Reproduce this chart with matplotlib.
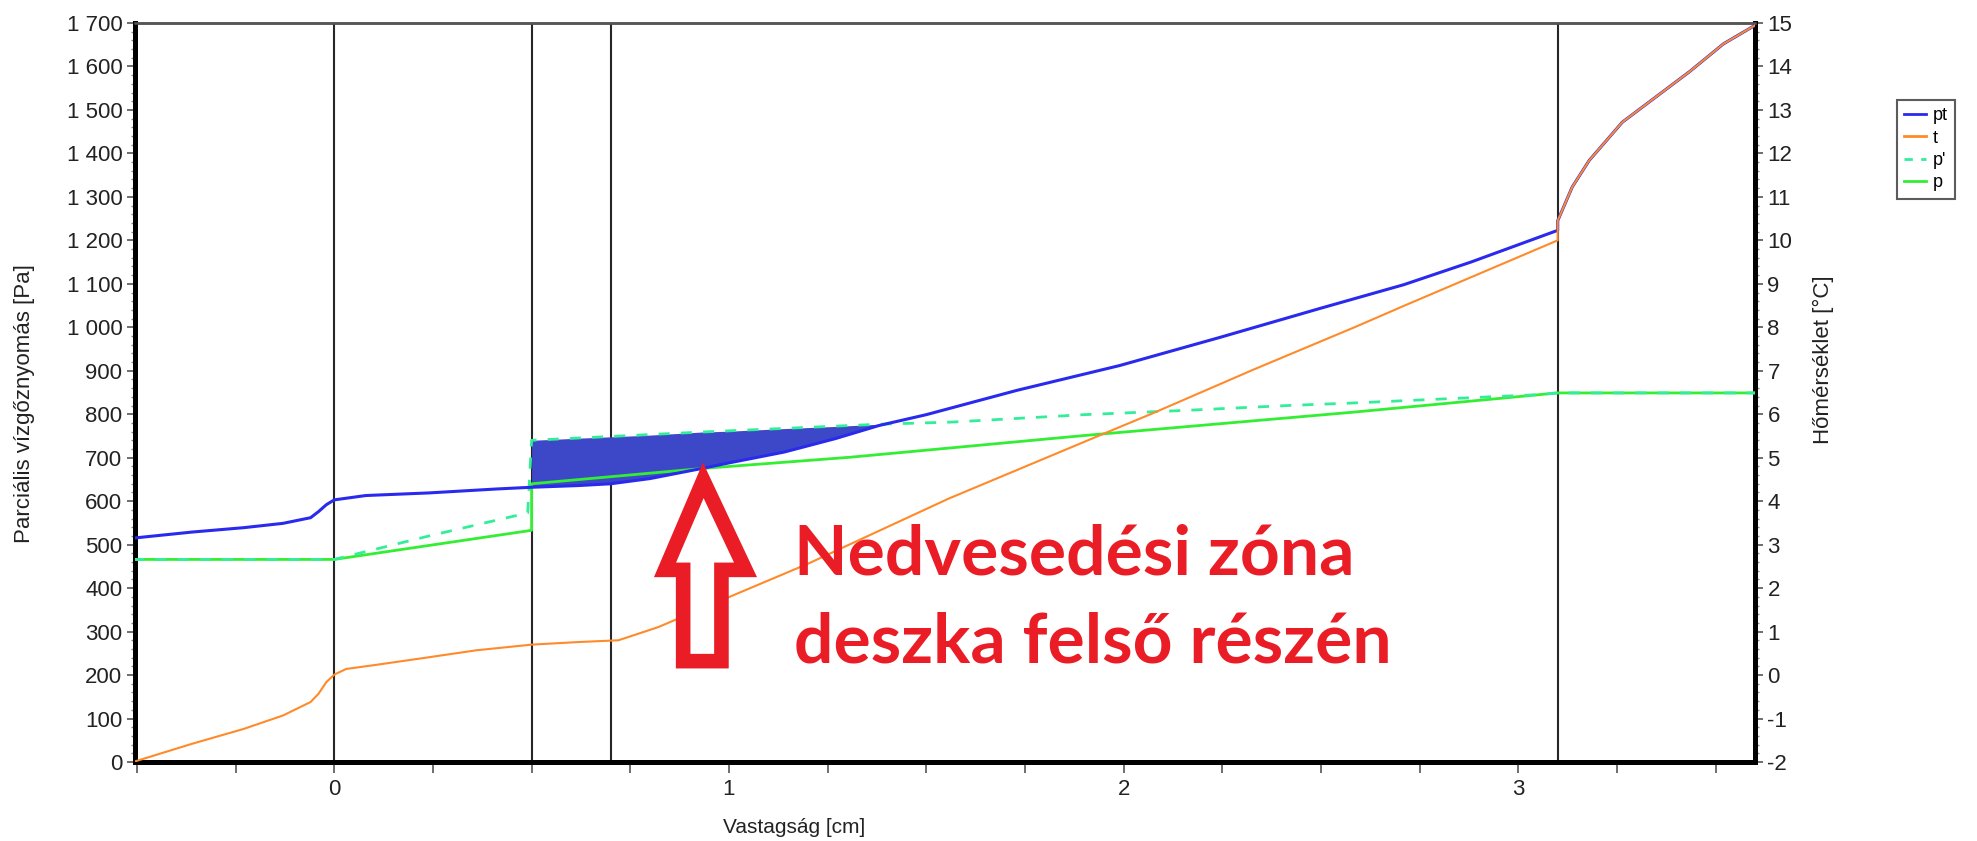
import matplotlib
matplotlib.use('Agg')
import matplotlib.pyplot as plt
from matplotlib.ticker import FuncFormatter, MultipleLocator
from matplotlib.patches import Polygon
from matplotlib.lines import Line2D

#layer boundaries [cm]
layer_edges = [0.0, 0.5, 0.7, 3.1]

#pt - saturation pressure [Pa]
pt_x = [-0.51, -0.36, -0.23, -0.13, -0.06, -0.04, -0.02, 0.0, 0.08, 0.24, 0.41, 0.5, 0.62, 0.7,
        0.8, 0.93, 1.0, 1.14, 1.27, 1.38, 1.5, 1.73, 1.99, 2.245, 2.5, 2.71, 2.88, 3.1,
        3.1, 3.137, 3.18, 3.264, 3.349, 3.434, 3.52, 3.61]
pt_y = [515, 529, 539, 549, 562, 576, 592, 603, 613, 619, 628, 632, 636, 640,
        652, 675, 688, 713, 744, 774, 799, 855, 912, 977, 1044, 1098, 1150, 1223,
        1245, 1323, 1384, 1472, 1530, 1588, 1652, 1700]

#t - temperature [C]
t_x = [-0.51, -0.36, -0.23, -0.13, -0.06, -0.04, -0.02, 0.0, 0.03, 0.11, 0.24, 0.36, 0.5, 0.62,
       0.72, 0.82, 0.96, 1.2, 1.557, 1.957, 2.076, 2.33, 2.585, 2.712, 2.88, 3.1,
       3.1, 3.137, 3.18, 3.264, 3.349, 3.434, 3.52, 3.61]
t_y = [-2.0, -1.58, -1.24, -0.93, -0.62, -0.43, -0.16, 0.01, 0.14, 0.24, 0.41, 0.57, 0.70, 0.76,
       0.80, 1.10, 1.64, 2.56, 4.06, 5.58, 6.03, 7.03, 8.0, 8.5, 9.15, 10.0,
       10.45, 11.23, 11.84, 12.72, 13.30, 13.88, 14.52, 15.0]

#p' - pressure without condensation [Pa]
pv_x = [-0.51, 0.0, 0.24, 0.49, 0.5, 0.93, 1.38, 1.566, 1.9, 2.16, 2.415, 2.585, 3.05, 3.1, 3.61]
pv_y = [466, 466, 520, 573, 740, 759, 777, 782, 799, 809, 820, 826, 845, 849, 849]

#p - partial pressure [Pa]
p_x = [-0.51, 0.0, 0.5, 0.5, 0.93, 1.306, 1.9, 2.585, 3.1, 3.61]
p_y = [466, 466, 533, 640, 675, 701, 751, 805, 849, 849]

#condensation zone: between p' and pt
fill_x = [0.5, 0.62, 0.7, 0.8, 0.93, 1.0, 1.14, 1.27, 1.38]
fill_top = [740, 745, 748, 752, 759, 761, 767, 772, 777]
fill_bot = [632, 636, 640, 652, 675, 688, 713, 744, 774]

C_PT = '#2a2aee'
C_T = '#ff8a2a'
C_PV = '#33ee99'
C_P = '#33ee33'
C_FILL = '#3d48c8'
C_RED = '#ea1c25'

fig = plt.figure(figsize=(19.77, 8.41), dpi=100)
ax = fig.add_axes([135/1977, 1 - 762/841, 1620/1977, 739/841])
ax2 = ax.twinx()

ax.fill_between(fill_x, fill_bot, fill_top, color=C_FILL, lw=0, zorder=2)

for xv in layer_edges:
    ax.axvline(xv, color='#262626', lw=1.5, zorder=1)

ax.plot(p_x, p_y, color=C_P, lw=2, zorder=3)
ax.plot(pv_x, pv_y, color=C_PV, lw=2, ls=(0, (4, 4)), zorder=3)
ax.plot(pt_x, pt_y, color=C_PT, lw=2.2, zorder=4)
#t belongs to the right axis; drawn on ax (left scale) so it stays above the rest
t_as_p = [(v + 2) * 100 for v in t_y]
ax.plot(t_x, t_as_p, color=C_T, lw=1.5, zorder=5)

ax.set_xlim(-0.505, 3.6)
ax.set_ylim(0, 1700)
ax2.set_ylim(-2, 15)

#ticks
ax.xaxis.set_major_locator(MultipleLocator(1))
ax.xaxis.set_minor_locator(MultipleLocator(0.25))
ax.yaxis.set_major_locator(MultipleLocator(100))
ax.yaxis.set_minor_locator(MultipleLocator(20))
ax2.yaxis.set_major_locator(MultipleLocator(1))
ax2.yaxis.set_minor_locator(MultipleLocator(0.2))
ax.yaxis.set_major_formatter(FuncFormatter(lambda v, pos: '{:,.0f}'.format(v).replace(',', ' ')))
ax2.yaxis.set_major_formatter(FuncFormatter(lambda v, pos: '%d' % v))

fnt = 'Liberation Sans'
ax.tick_params(axis='y', which='major', direction='out', length=6, width=1.2, color='#555555',
               labelsize=16, pad=3, labelcolor='#222222')
ax.tick_params(axis='y', which='minor', direction='out', length=3, width=1, color='#888888')
ax2.tick_params(axis='y', which='major', direction='out', length=6, width=1.2, color='#555555',
                labelsize=16, pad=3, labelcolor='#222222')
ax2.tick_params(axis='y', which='minor', direction='out', length=3, width=1, color='#888888')
ax.tick_params(axis='x', which='both', direction='out', length=8, width=1.2, color='#555555',
               labelsize=16, pad=4, labelcolor='#222222')
for lab in ax.get_xticklabels() + ax.get_yticklabels() + ax2.get_yticklabels():
    lab.set_fontfamily(fnt)

for a in (ax, ax2):
    a.spines['left'].set_linewidth(3.5)
    a.spines['right'].set_linewidth(3.5)
    a.spines['bottom'].set_linewidth(3.5)
    a.spines['top'].set_linewidth(1.8)
    a.spines['top'].set_color('#555555')
ax2.patch.set_visible(False)
ax.set_zorder(ax2.get_zorder() + 1)
ax.patch.set_visible(False)

ax.set_xlabel('Vastagság [cm]', fontsize=15, family=fnt, color='#222222')
ax.xaxis.set_label_coords(0.407, -0.076)
ax.set_ylabel('Parciális vízgőznyomás [Pa]', fontsize=16, family=fnt, color='#222222')
ax.yaxis.set_label_coords(-0.062, 0.485)
ax2.set_ylabel('Hőmérséklet [°C]', fontsize=16, family=fnt, color='#222222')
ax2.yaxis.set_label_coords(1.036, 0.545)

#annotation
ax.text(1.165, 431, 'Nedvesedési zóna', color=C_RED, fontsize=50, family='Lato',
        fontweight='bold', va='baseline', ha='left', zorder=6)
ax.text(1.165, 228, 'deszka felső részén', color=C_RED, fontsize=50, family='Lato',
        fontweight='bold', va='baseline', ha='left', zorder=6)

arrow_pts = [(0.935, 648), (1.042, 442), (0.981, 442), (0.981, 232), (0.884, 232),
             (0.884, 442), (0.838, 442)]
ax.add_patch(Polygon(arrow_pts, closed=True, facecolor='white', edgecolor=C_RED,
                     lw=10.5, joinstyle='miter', zorder=6))

#legend
handles = [Line2D([], [], color=C_PT, lw=2),
           Line2D([], [], color=C_T, lw=2),
           Line2D([], [], color=C_PV, lw=2, ls=(0, (3, 3))),
           Line2D([], [], color=C_P, lw=2)]
leg = fig.legend(handles, ['pt', 't', "p'", 'p'], loc='upper left',
                 bbox_to_anchor=(1897/1977, 1 - 100/841), frameon=True, fancybox=False,
                 prop={'family': fnt, 'size': 13}, handlelength=1.2, handletextpad=0.4,
                 borderpad=0.4, labelspacing=0.3, borderaxespad=0)
leg.get_frame().set_edgecolor('#333333')
leg.get_frame().set_linewidth(1.5)

fig.savefig('out.png', dpi=100)
